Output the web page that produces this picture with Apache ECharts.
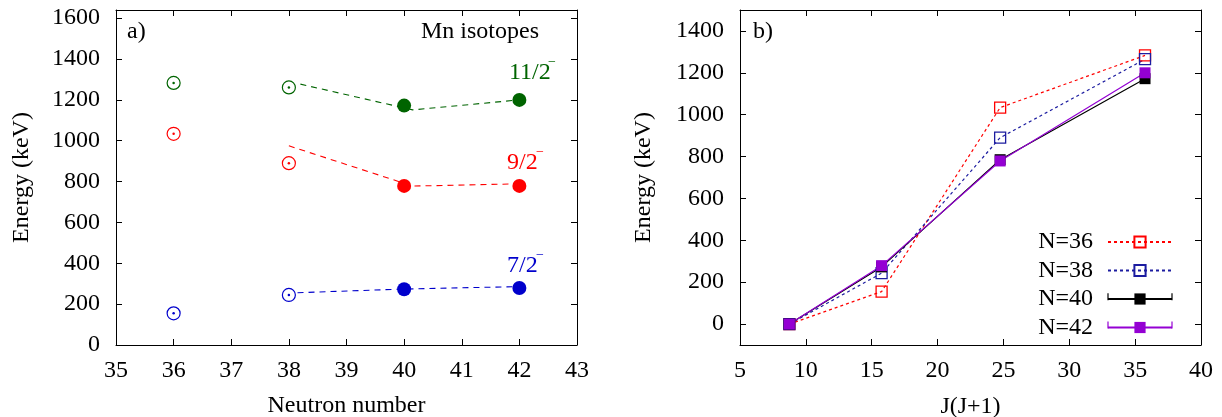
<!DOCTYPE html>
<html>
<head>
<meta charset="utf-8">
<script src="https://cdn.jsdelivr.net/npm/echarts@6/dist/echarts.min.js"></script>
<style>
html,body{margin:0;padding:0;background:#fff;}
#c{width:1222px;height:417px;}
</style>
</head>
<body>
<div id="c"></div>
<script>
// ---- Panel a) : Mn isotopes, level energies vs neutron number ----
const neutronN = [36, 38, 40, 42];
const e72 = [155, 245, 273, 279];      // 7/2- (keV)
const e92 = [1034, 890, 779, 779];     // 9/2- (keV)
const e112 = [1283, 1261, 1172, 1200]; // 11/2- (keV)
// dashed guide lines
const fit72X = [38.15, 40, 42];   const fit72Y = [256, 274, 286];
const fit92X = [38, 40.15, 42];   const fit92Y = [975, 778, 789];
const fit112X = [38.2, 40.15, 42]; const fit112Y = [1277, 1151, 1200];
const leftYTicks = [0, 200, 400, 600, 800, 1000, 1200, 1400, 1600];

// ---- Panel b) : energies vs J(J+1) ----
const jj = [8.75, 15.75, 24.75, 35.75];
const n36 = [0, 155, 1034, 1283];
const n38 = [0, 243, 890, 1265];
const n40 = [0, 273, 785, 1172];
const n42 = [0, 279, 779, 1200];
const rightYTicks = [0, 200, 400, 600, 800, 1000, 1200, 1400];
const legendNames = ['N=36', 'N=38', 'N=40', 'N=42'];

const FONT = 'Liberation Serif';
const FS = 24;
const GREEN = '#006400', RED = '#ff0000', BLUE = '#0000cc';
const NAVY = '#1c1ca0', PURPLE = '#9400d3';

const zip = (xs, ys) => xs.map((x, i) => [x, ys[i]]);
const plain = v => String(v);

function labelStyle(extra) {
  return Object.assign({ color: '#000', fontFamily: FONT, fontSize: FS, formatter: plain }, extra);
}
function baseAxis(extra) {
  return Object.assign({
    axisLine: { onZero: false, lineStyle: { color: '#000', width: 1 } },
    axisTick: { inside: true, length: 6, lineStyle: { color: '#000' } },
    splitLine: { show: false },
    axisLabel: labelStyle({}),
    nameTextStyle: { color: '#000', fontFamily: FONT, fontSize: FS }
  }, extra);
}
const tickStyle = vals => ({ inside: true, length: 6, lineStyle: { color: '#000' }, customValues: vals });

const chart = echarts.init(document.getElementById('c'), null, { renderer: 'canvas' });

const xAxes = [
  baseAxis({ gridIndex: 0, type: 'value', min: 35, max: 43, interval: 1, position: 'bottom',
    name: 'Neutron number', nameLocation: 'middle', nameGap: 49,
    axisLabel: labelStyle({ margin: 14 }) }),
  baseAxis({ gridIndex: 0, type: 'value', min: 35, max: 43, interval: 1, position: 'top',
    axisLabel: { show: false } }),
  baseAxis({ gridIndex: 1, type: 'value', min: 5, max: 40, interval: 5, position: 'bottom',
    name: 'J(J+1)', nameLocation: 'middle', nameGap: 50,
    axisLabel: labelStyle({ margin: 14 }) }),
  baseAxis({ gridIndex: 1, type: 'value', min: 5, max: 40, interval: 5, position: 'top',
    axisLabel: { show: false } })
];

const yAxes = [
  baseAxis({ gridIndex: 0, type: 'value', min: 0, max: 1640, position: 'left',
    name: 'Energy (keV)', nameLocation: 'middle', nameGap: 82,
    axisTick: tickStyle(leftYTicks),
    axisLabel: labelStyle({ margin: 16, customValues: leftYTicks }) }),
  baseAxis({ gridIndex: 0, type: 'value', min: 0, max: 1640, position: 'right',
    axisTick: tickStyle(leftYTicks), axisLabel: { show: false } }),
  baseAxis({ gridIndex: 1, type: 'value', min: -100, max: 1500, position: 'left',
    name: 'Energy (keV)', nameLocation: 'middle', nameGap: 84,
    axisTick: tickStyle(rightYTicks),
    axisLabel: labelStyle({ margin: 16, customValues: rightYTicks }) }),
  baseAxis({ gridIndex: 1, type: 'value', min: -100, max: 1500, position: 'right',
    axisTick: tickStyle(rightYTicks), axisLabel: { show: false } })
];

function fitLine(xs, ys, color) {
  return { type: 'line', xAxisIndex: 0, yAxisIndex: 0, data: zip(xs, ys), showSymbol: false,
    symbol: 'none', silent: true, z: 2,
    lineStyle: { color: color, width: 1.1, type: [6, 5] } };
}
function openPts(vals, color) {
  return [
    { type: 'scatter', xAxisIndex: 0, yAxisIndex: 0, data: zip(neutronN.slice(0, 2), vals.slice(0, 2)),
      symbol: 'circle', symbolSize: 13, z: 3,
      itemStyle: { color: 'rgba(0,0,0,0)', borderColor: color, borderWidth: 1.2, opacity: 1 } },
    { type: 'scatter', xAxisIndex: 0, yAxisIndex: 0, data: zip(neutronN.slice(0, 2), vals.slice(0, 2)),
      symbol: 'circle', symbolSize: 2.5, z: 3, itemStyle: { color: color, opacity: 1 } }
  ];
}
function filledPts(vals, color) {
  return { type: 'scatter', xAxisIndex: 0, yAxisIndex: 0, data: zip(neutronN.slice(2), vals.slice(2)),
    symbol: 'circle', symbolSize: 14, z: 4, itemStyle: { color: color, opacity: 1 } };
}
function jjSeries(name, vals, color, open) {
  return { name: name, type: 'line', xAxisIndex: 2, yAxisIndex: 2, data: zip(jj, vals),
    symbol: 'rect', symbolSize: 11, showSymbol: true,
    lineStyle: { color: color, width: 1.2, type: open ? [3, 3] : 'solid' },
    itemStyle: open ? { color: 'rgba(0,0,0,0)', borderColor: color, borderWidth: 1.3 }
                    : { color: color } };
}

const series = [
  fitLine(fit112X, fit112Y, GREEN),
  fitLine(fit92X, fit92Y, RED),
  fitLine(fit72X, fit72Y, BLUE),
  ...openPts(e112, GREEN), ...openPts(e92, RED), ...openPts(e72, BLUE),
  filledPts(e112, GREEN), filledPts(e92, RED), filledPts(e72, BLUE),
  jjSeries(legendNames[0], n36, RED, true),
  jjSeries(legendNames[1], n38, NAVY, true),
  jjSeries(legendNames[2], n40, '#000', false),
  jjSeries(legendNames[3], n42, PURPLE, false)
];

function txt(x, y, s, color, size, align) {
  return { type: 'text', x: x, y: y, silent: true, z: 10,
    style: { text: s, fill: color || '#000', font: (size || FS) + 'px "' + FONT + '"',
      textAlign: align || 'left', textVerticalAlign: 'middle' } };
}
function cap(x, y, color) {
  return { type: 'line', silent: true, z: 10,
    shape: { x1: x, y1: y - 3.5, x2: x, y2: y + 3.5 },
    style: { stroke: color, lineWidth: 1.2 } };
}

chart.setOption({
  animation: false,
  backgroundColor: '#fff',
  grid: [
    { left: 116, top: 10, width: 461, height: 335, containLabel: false, outerBoundsMode: 'none' },
    { left: 740, top: 10, width: 461, height: 335, containLabel: false, outerBoundsMode: 'none' }
  ],
  xAxis: xAxes,
  yAxis: yAxes,
  legend: {
    data: legendNames, orient: 'vertical', right: 44, top: 225, align: 'right',
    itemWidth: 64, itemHeight: 14, itemGap: 4.5, selectedMode: false,
    textStyle: { color: '#000', fontFamily: FONT, fontSize: FS, padding: [0, 10, 0, 0] }
  },
  series: series,
  graphic: [
    txt(127, 32, 'a)'),
    txt(421, 32, 'Mn isotopes'),
    txt(509, 73, '11/2', GREEN), txt(548, 62, '\u2212', GREEN, 14),
    txt(507, 163, '9/2', RED),   txt(536, 152, '\u2212', RED, 14),
    txt(507, 266, '7/2', BLUE),  txt(536, 255, '\u2212', BLUE, 14),
    txt(753, 32, 'b)'),
    cap(1108, 296.7, '#000'), cap(1172, 296.7, '#000'),
    cap(1108, 325, PURPLE), cap(1172, 325, PURPLE)
  ]
});
</script>
</body>
</html>
